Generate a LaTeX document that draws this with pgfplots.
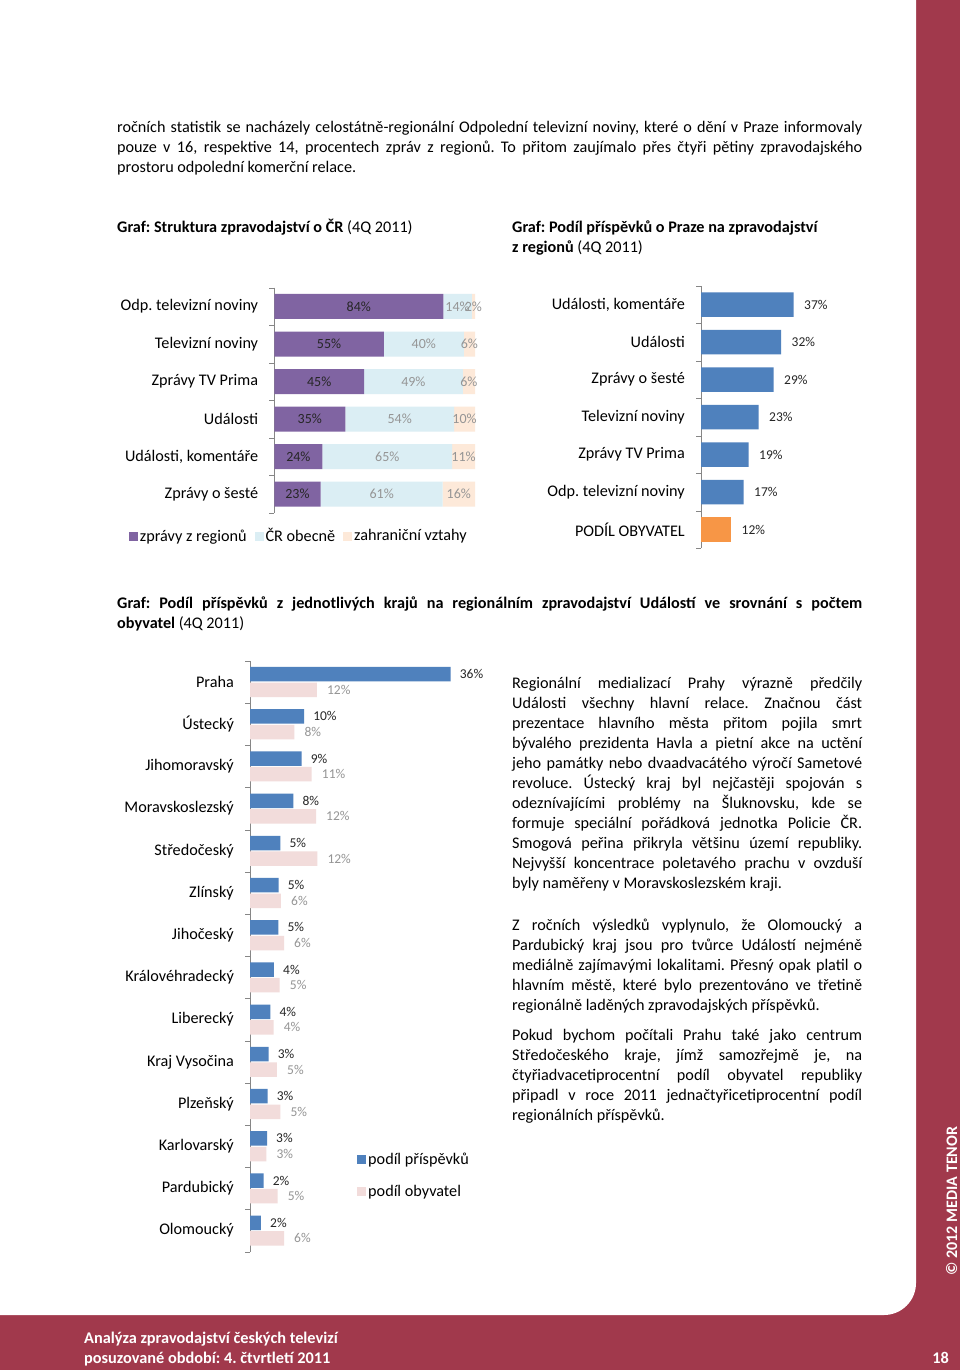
\documentclass[border=0pt]{standalone}
\usepackage{fontspec}
\setmainfont{Carlito}
\usepackage{pgfplots}
\pgfplotsset{compat=1.18}
\usepackage{pgfplotstable}
\frenchspacing

\definecolor{tenor}{RGB}{161,57,76}
\definecolor{fialova}{HTML}{8064A2}
\definecolor{svmodra}{HTML}{DBEEF4}
\definecolor{broskev}{HTML}{FDE9D9}
\definecolor{modra}{HTML}{4F81BD}
\definecolor{oranz}{HTML}{F79646}
\definecolor{ruzova}{HTML}{F2DCDB}
\definecolor{osa}{HTML}{868686}
\definecolor{popis}{HTML}{959595}

\newcommand\bt{\fontsize{16.2}{20}\selectfont}
\newcommand\vt{\fontsize{13.5}{15}\selectfont}
% one line of text: justified (jline) or plain (tline), baseline at pixel y
\newcommand\jline[4]{\node[anchor=base west,inner sep=0pt] at (#1pt,-#2pt) {\makebox[#3pt][s]{#4}};}
\newcommand\tline[3]{\node[anchor=base west,inner sep=0pt] at (#1pt,-#2pt) {#3};}

% struktura zpravodajstvi o CR
\pgfplotstableread{
y reg cr zah
0 84.2 14.2 1.6
1 54.6 39.8 5.6
2 44.7 49.2 6.1
3 35.4 54.2 10.4
4 24.0 64.6 11.4
5 23.1 60.8 16.1
}\strukt

% podil prispevku z kraju vs. podil obyvatel
\pgfplotstableread{
y pr ob
0 36.0 12.0
1 9.7 7.95
2 9.27 11.07
3 7.77 11.84
4 5.44 12.08
5 5.14 5.56
6 5.08 6.1
7 4.3 5.33
8 3.65 4.24
9 3.35 4.84
10 3.17 5.44
11 3.05 2.93
12 2.45 4.96
13 1.97 6.1
}\kraje

\pgfplotsset{
  excelbars/.style={
    scale only axis, anchor=south west, clip=false,
    axis x line=none, axis y line*=left, y dir=reverse,
    major tick length=0pt, minor tick length=5pt, tick align=outside,
    tick style={osa}, minor tick style={osa}, axis line style={osa},
    yticklabel style={font=\bt, inner sep=0pt, xshift=-16pt},
    /pgf/number format/assume math mode=true,
  },
  sqlegend/.style={
    legend image code/.code={\fill[##1] (0pt,-4.5pt) rectangle (9pt,4.5pt);},
  },
}

\begin{document}
\begin{tikzpicture}[font=\bt]
\useasboundingbox (0,0) rectangle (960pt,-1370pt);
\fill[tenor] (0,0) rectangle (960pt,-1370pt);
\fill[white, rounded corners=32pt] (-50pt,50pt) rectangle (916pt,-1315pt);

% uvodni text
\jline{117}{132}{745}{ročních statistik se nacházely celostátně-regionální Odpolední televizní noviny, které o dění v Praze informovaly}
\jline{117}{152}{745}{pouze v 16, respektive 14, procentech zpráv z regionů. To přitom zaujímalo přes čtyři pětiny zpravodajského}
\tline{117}{172}{prostoru odpolední komerční relace.}

% nadpisy grafu
\tline{117}{232}{\textbf{Graf: Struktura zpravodajství o ČR} (4Q 2011)}
\tline{512}{232}{\textbf{Graf: Podíl příspěvků o Praze na zpravodajství}}
\tline{512}{252}{\textbf{z regionů} (4Q 2011)}
\jline{117}{608}{745}{\textbf{Graf: Podíl příspěvků z jednotlivých krajů na regionálním zpravodajství Událostí ve srovnání s počtem}}
\tline{117}{628}{\textbf{obyvatel} (4Q 2011)}

% pravy sloupec textu
\jline{512}{688}{350}{Regionální medializací Prahy výrazně předčily}
\jline{512}{708}{350}{Události všechny hlavní relace. Značnou část}
\jline{512}{728}{350}{prezentace hlavního města přitom pojila smrt}
\jline{512}{748}{350}{bývalého prezidenta Havla a pietní akce na uctění}
\jline{512}{768}{350}{jeho památky nebo dvaadvacátého výročí Sametové}
\jline{512}{788}{350}{revoluce. Ústecký kraj byl nejčastěji spojován s}
\jline{512}{808}{350}{odeznívajícími problémy na Šluknovsku, kde se}
\jline{512}{828}{350}{formuje speciální pořádková jednotka Policie ČR.}
\jline{512}{848}{350}{Smogová peřina přikryla většinu území republiky.}
\jline{512}{868}{350}{Nejvyšší koncentrace poletavého prachu v ovzduší}
\tline{512}{888}{byly naměřeny v Moravskoslezském kraji.}

\jline{512}{930}{350}{Z ročních výsledků vyplynulo, že Olomoucký a}
\jline{512}{950}{350}{Pardubický kraj jsou pro tvůrce Událostí nejméně}
\jline{512}{970}{350}{mediálně zajímavými lokalitami. Přesný opak platil o}
\jline{512}{990}{350}{hlavním městě, které bylo prezentováno ve třetině}
\tline{512}{1010}{regionálně laděných zpravodajských příspěvků.}

\jline{512}{1040}{350}{Pokud bychom počítali Prahu také jako centrum}
\jline{512}{1060}{350}{Středočeského kraje, jímž samozřejmě je, na}
\jline{512}{1080}{350}{čtyřiadvacetiprocentní podíl obyvatel republiky}
\jline{512}{1100}{350}{připadl v roce 2011 jednačtyřicetiprocentní podíl}
\tline{512}{1120}{regionálních příspěvků.}

% graf 1: struktura zpravodajstvi
\begin{axis}[excelbars,
  at={(274.3pt,-512.9pt)}, width=200.7pt, height=225.2pt,
  xbar stacked, bar width=25pt, sqlegend,
  xmin=0, xmax=100, ymin=-0.5, ymax=5.5,
  ytick={0,...,5},
  yticklabels={Odp. televizní noviny, Televizní noviny, Zprávy TV Prima, Události, {Události, komentáře}, Zprávy o šesté},
  minor ytick={-0.5,0.5,...,5.5},
  point meta=explicit,
  nodes near coords={\pgfmathprintnumber[fixed,precision=0]{\pgfplotspointmeta}\%},
  every node near coord/.append style={font=\fontsize{14}{15}\selectfont, anchor=center, inner sep=0pt},
  legend style={at={(-0.725,-0.103)}, anchor=west, draw=none, fill=none,
    legend columns=-1, font=\bt, inner sep=0pt,
    /tikz/every even column/.append style={column sep=6pt}},
]
\addplot[fill=fialova, draw=none,
  every node near coord/.append style={black!85}] table[x=reg, y=y, meta=reg] {\strukt};
\addlegendentry{zprávy z regionů}
\addplot[fill=svmodra, draw=none,
  every node near coord/.append style={popis}] table[x=cr, y=y, meta=cr] {\strukt};
\addlegendentry{ČR obecně}
\addplot[fill=broskev, draw=none,
  every node near coord/.append style={popis}] table[x=zah, y=y, meta=zah] {\strukt};
\addlegendentry{zahraniční vztahy}
\end{axis}

% graf 2: podil prispevku o Praze
\begin{axis}[excelbars,
  at={(701pt,-548.25pt)}, width=100pt, height=262.5pt,
  xbar, bar width=24.5pt, bar shift=0pt,
  xmin=0, xmax=40, ymin=-0.5, ymax=6.5,
  ytick={0,...,6},
  yticklabels={{Události, komentáře}, Události, Zprávy o šesté, Televizní noviny, Zprávy TV Prima, Odp. televizní noviny, PODÍL OBYVATEL},
  minor ytick={-0.5,0.5,...,6.5},
  nodes near coords={\pgfmathprintnumber{\pgfplotspointmeta}\%},
  every node near coord/.append style={font=\vt, text=black!85, inner sep=0pt, anchor=west, xshift=10.5pt},
]
\addplot[fill=modra, draw=none] coordinates {(37,0) (32,1) (29,2) (23,3) (19,4) (17,5)};
\addplot[fill=oranz, draw=none] coordinates {(12,6)};
\end{axis}

% graf 3: kraje
\begin{axis}[excelbars,
  at={(250pt,-1251.7pt)}, width=223pt, height=590.8pt,
  xbar, bar width=14.5pt, sqlegend,
  xmin=0, xmax=40, ymin=-0.5, ymax=13.5,
  ytick={0,...,13},
  yticklabels={Praha, Ústecký, Jihomoravský, Moravskoslezský, Středočeský, Zlínský, Jihočeský, Královéhradecký, Liberecký, Kraj Vysočina, Plzeňský, Karlovarský, Pardubický, Olomoucký},
  minor ytick={-0.5,0.5,...,13.5},
  nodes near coords={\pgfmathprintnumber[fixed,precision=0]{\pgfplotspointmeta}\%},
  every node near coord/.append style={font=\vt, inner sep=0pt, anchor=west},
  legend style={at={(0.48,0.170)}, anchor=north west, draw=none, fill=none,
    font=\bt, inner sep=0pt, row sep=15pt, legend cell align=left},
]
\addplot[fill=modra, draw=none, bar shift=7.8pt,
  every node near coord/.append style={text=black!85, xshift=9pt}] table[x=pr, y=y] {\kraje};
\addlegendentry{podíl příspěvků}
\addplot[fill=ruzova, draw=none, bar shift=-7.8pt,
  every node near coord/.append style={text=popis, xshift=10pt}] table[x=ob, y=y] {\kraje};
\addlegendentry{podíl obyvatel}
\end{axis}

% paticka
\node[anchor=base west, inner sep=0pt, text=white, font=\bfseries\fontsize{16.3}{18}\selectfont] at (84pt,-1343pt) {Analýza zpravodajství českých televizí};
\node[anchor=base west, inner sep=0pt, text=white, font=\bfseries\fontsize{16.3}{18}\selectfont] at (84pt,-1363pt) {posuzované období: 4. čtvrtletí 2011};
\node[anchor=base east, inner sep=0pt, text=white, font=\bfseries\fontsize{16.3}{18}\selectfont] at (949pt,-1363pt) {18};
\node[rotate=90, anchor=base, inner sep=0pt, text=white, font=\bfseries\fontsize{16}{18}\selectfont] at (957pt,-1201pt) {© 2012 MEDIA TENOR};
\end{tikzpicture}
\end{document}
